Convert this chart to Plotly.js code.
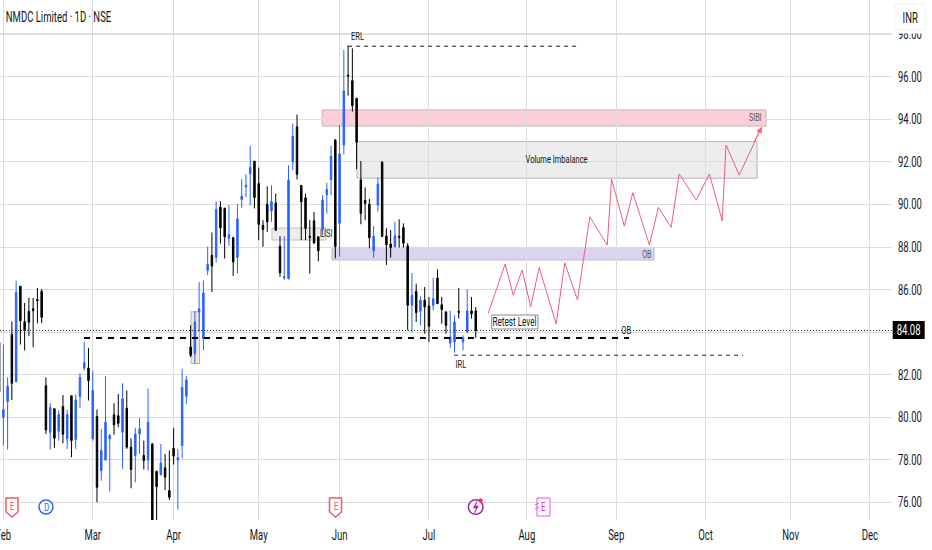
<!DOCTYPE html>
<html><head><meta charset="utf-8">
<script src="https://cdn.plot.ly/plotly-3.0.1.min.js"></script>
<style>html,body{margin:0;padding:0;background:#fff}#c{width:932px;height:550px}</style>
</head><body><div id="c"></div>
<script>
const opens=[83.53,80.01,80.74,83.89,81.68,86.16,84.50,84.98,85.11,85.53,85.92,81.49,79.30,80.40,79.35,80.51,78.99,81.01,78.96,80.98,82.31,82.32,78.99,80.04,77.50,78.00,78.99,80.12,80.08,79.30,80.43,78.60,78.21,79.22,78.21,78.00,78.75,77.46,77.31,77.63,76.56,78.55,78.00,78.68,80.99,83.30,82.99,84.95,83.69,86.91,87.61,87.51,89.88,89.81,88.40,88.44,87.51,90.23,90.82,91.45,92.03,90.98,89.02,90.01,89.70,90.07,88.04,86.55,86.52,92.00,93.64,90.89,90.31,88.51,89.23,88.48,88.82,90.46,91.17,93.03,89.11,92.79,96.08,95.81,94.98,91.15,90.19,90.02,87.82,89.97,91.99,88.52,88.14,88.02,88.50,88.91,88.05,85.26,85.92,84.98,85.50,85.23,85.26,86.54,85.29,84.95,83.49,83.54,84.98,83.54,84.01,85.00,85.00];
const highs=[83.53,83.42,81.88,84.50,86.42,86.16,85.37,85.61,85.61,86.08,86.03,81.88,80.66,80.43,80.32,81.05,80.35,81.02,81.07,82.07,83.56,83.26,82.20,80.37,79.46,81.95,79.22,80.66,81.10,81.60,81.26,79.02,79.51,79.97,78.91,81.34,78.79,77.50,78.75,78.28,78.44,79.49,78.52,82.28,81.95,84.32,84.98,86.35,86.43,88.01,88.68,90.15,90.15,89.85,89.96,88.48,90.01,91.18,91.42,92.75,92.04,91.73,89.26,90.85,90.90,90.51,88.51,88.51,91.84,93.80,94.22,90.90,90.51,89.26,89.65,88.48,90.43,91.01,92.75,93.06,93.73,97.25,97.46,97.33,95.01,92.04,90.80,90.26,88.99,91.27,92.01,88.88,88.80,89.19,89.30,89.11,88.18,86.78,86.28,85.68,86.12,85.65,86.56,86.95,85.65,84.98,85.00,84.79,86.08,83.85,86.00,85.65,85.18];
const lows=[81.10,78.68,78.49,80.82,81.65,83.42,83.14,83.81,83.29,84.42,84.42,79.22,78.49,78.57,78.91,78.79,78.52,78.13,78.52,80.43,82.20,80.79,78.91,76.02,77.03,77.97,76.52,79.18,79.54,77.58,78.52,76.67,76.95,78.28,77.55,77.50,75.00,75.00,77.27,76.59,76.12,77.78,75.67,78.08,80.63,82.83,82.52,84.01,83.15,86.68,85.89,87.27,88.16,87.46,88.05,86.64,86.75,89.84,90.35,89.96,89.81,88.32,88.01,88.71,89.18,88.76,86.60,86.44,86.47,91.61,91.17,88.32,88.32,86.75,88.16,87.33,88.55,89.57,90.43,87.47,87.55,92.35,95.11,94.36,91.66,89.07,89.27,87.94,87.50,89.66,88.49,87.16,87.50,87.97,87.97,87.97,84.09,84.01,84.48,84.32,83.93,83.54,85.03,85.34,84.40,83.93,83.27,83.04,84.64,83.15,83.96,84.64,83.73];
const closes=[81.18,80.37,81.45,81.60,85.86,84.54,84.08,84.47,85.01,85.48,84.70,79.41,80.46,79.02,80.13,79.21,80.13,78.91,80.82,81.88,82.57,81.73,81.26,76.72,78.44,79.77,79.15,79.65,79.72,80.87,78.60,77.55,79.22,79.46,77.97,79.77,75.00,76.75,77.86,77.19,76.25,78.18,78.11,81.41,81.76,82.91,84.48,85.10,85.84,87.19,87.11,89.76,88.90,88.48,88.58,87.30,89.32,90.38,90.90,91.73,90.32,89.05,88.82,89.18,90.13,88.79,86.79,86.60,91.14,93.20,91.42,90.12,88.87,88.44,88.19,87.82,90.20,90.70,92.26,88.02,92.37,95.33,96.03,94.64,92.92,89.58,90.05,88.44,88.50,90.96,88.49,88.10,87.97,88.53,88.44,88.18,85.26,85.73,84.92,85.50,85.18,84.28,85.57,85.34,85.07,84.32,83.77,84.48,84.93,83.74,85.00,84.87,84.08];
const barIndex=opens.map((_,i)=>i);

const pathBars=[114.9,118.9,120.8,122.9,124.9,126.9,130.9,132.9,135.9,138.8,142.9,143.9,146.9,148.9,152.8,154.9,157.9,159.8,163.8,166.9,169.9,170.8,173.9,179.2];
const pathPrices=[84.88,87.20,85.74,86.92,85.19,87.04,84.38,87.26,85.51,89.42,88.09,91.19,88.98,90.55,88.09,89.86,88.92,91.43,90.21,91.43,89.23,92.79,91.38,93.64];

const monthVals=[1,22,41,61,80,101,124,145,166,186,204.6];
const monthText=['Feb','Mar','Apr','May','Jun','Jul','Aug','Sep','Oct','Nov','Dec'];
const priceVals=[76,78,80,82,84,86,88,90,92,94,96,98];
const priceText=['76.00','78.00','80.00','82.00','','86.00','88.00','90.00','92.00','94.00','96.00','98.00'];
const lastPrice=84.08;

const FONT='Roboto,sans-serif';
const INK='#131722', GRID='#dcdcdc';
const W=892,H=520;
const SQUEEZE=0.68;
const px=x=>x/W, py=y=>1-y/H;
const poly=(pts,close)=>'M'+pts.map(p=>px(p[0])+' '+py(p[1])).join(' L')+(close?' Z':'');

function box(x0,x1,y0,y1,fill,line){return {type:'rect',xref:'x',yref:'y',x0,x1,y0,y1,layer:'below',fillcolor:fill,line:{color:line,width:1}};}
function hline(x0,x1,y,color,width,dash){return {type:'line',xref:'x',yref:'y',x0,x1,y0:y,y1:y,layer:'above',line:{color,width,dash}};}
function paperRect(x0,x1,y0,y1,fill,line){return {type:'rect',xref:'paper',yref:'paper',x0:px(x0),x1:px(x1),y0:py(y1),y1:py(y0),layer:'above',fillcolor:fill,line:line?{color:line,width:1}:{width:0}};}
function paperPath(path,stroke,fill,w){return {type:'path',xref:'paper',yref:'paper',path,layer:'above',fillcolor:fill||'#fff',line:{color:stroke,width:w||1.5}};}
function paperCircle(cx,cy,r,stroke,fill,w){return {type:'circle',xref:'paper',yref:'paper',x0:px(cx-r),x1:px(cx+r),y0:py(cy+r),y1:py(cy-r),layer:'above',fillcolor:fill||'#fff',line:{color:stroke,width:w||1.5}};}
function shield(cx,color){return paperPath(poly([[cx-6,498],[cx+6,498],[cx+6,512],[cx,517],[cx-6,512]],true),color);}

const shapes=[
 {type:'line',xref:'paper',yref:'y',x0:0,x1:1,y0:98,y1:98,layer:'below',line:{color:'#e2e2e2',width:2}},
 box(75.9,180.2,93.68,94.44,'rgba(247,160,178,0.5)','#c9b3b8'),
 box(84.1,178.1,91.23,92.95,'rgba(225,225,225,0.6)','#b5b5b5'),
 box(78.2,153.9,87.39,87.98,'rgba(190,175,225,0.55)','#c0bccb'),
 box(64.1,76.8,88.33,88.89,'rgba(225,225,225,0.6)','#c0c0c0'),
 box(45.1,47.1,82.53,84.96,'rgba(225,210,170,0.5)','#b9b3a4'),
 {type:'line',xref:'paper',yref:'y',x0:0,x1:1,y0:lastPrice,y1:lastPrice,layer:'above',line:{color:'#333',width:1,dash:'1px,2px'}},
 hline(19.95,148,83.73,'#000',2,'6px,6px'),
 hline(82,136.5,97.43,'#111',1,'4px,4px'),
 hline(106.9,174.8,82.92,'#222',1,'4px,4px'),
 paperRect(892,932,0,33.5,'#fff'),
 paperRect(895,925,4,30,'#fff','#f0f0f0'),
 paperRect(892.7,924.7,321,339,'#000'),
 paperRect(491.7,538,315,329,'#fff','#888'),
 shield(12,'#ef5a6b'),
 paperCircle(46,507,7,'#2962ff'),
 shield(335.5,'#ef5a6b'),
 paperCircle(475.7,507,7.3,'#9c27b0'),
 paperPath(poly([[477,501],[473.5,508],[476.5,508],[474.5,513],[478.5,506],[475.5,506]],true),'#9c27b0','#9c27b0',0.6),
 paperCircle(480.5,500.5,2,'#f23645','#f23645',0.5),
 paperRect(537,550,498,516,'#fff','#e255ee'),
 paperPath(poly([[535,505],[539,503]]),'#e255ee',null,1),
 paperPath(poly([[535,509],[539,507]]),'#e255ee',null,1)
];

function label(x,y,text,extra){return Object.assign({xref:'x',yref:'y',x,y,xanchor:'center',yanchor:'middle',text,showarrow:false,font:{family:FONT,size:11,color:INK}},extra||{});}
function paperLabel(xp,yp,text,extra){return Object.assign({xref:'paper',yref:'paper',x:px(xp),y:py(yp),xanchor:'center',yanchor:'middle',text,showarrow:false,font:{family:FONT,size:13,color:INK}},extra||{});}

const annotations=[
 paperLabel(58.5,17,'NMDC Limited · 1D · NSE',{font:{family:FONT,size:14,color:INK}}),
 label(84.1,97.87,'ERL'),
 label(108.5,82.50,'IRL'),
 label(147.3,84.10,'OB'),
 label(177.8,94.06,'SIBI',{font:{family:FONT,size:10.5,color:'#555'}}),
 label(130.9,92.11,'Volume Imbalance'),
 label(152.2,87.67,'OB',{font:{family:FONT,size:10.5,color:'#555'}}),
 label(76.8,88.65,'LISI'),
 label(121.2,84.47,'Retest Level',{font:{family:FONT,size:12,color:INK}}),
 {xref:'x',yref:'y',x:179.2,y:93.64,ax:-8,ay:16,axref:'pixel',ayref:'pixel',text:'',showarrow:true,arrowhead:2,arrowsize:1.2,arrowwidth:1,arrowcolor:'#ec5f7b'},
 paperLabel(908.7,330,lastPrice.toFixed(2),{font:{family:FONT,size:14,color:'#fff'}}),
 paperLabel(910,18,'INR',{font:{family:FONT,size:14,color:INK}}),
 paperLabel(12,506.5,'E',{font:{family:FONT,size:11,color:'#e8505f'}}),
 paperLabel(46,507,'D',{font:{family:FONT,size:11,color:'#2962ff'}}),
 paperLabel(335.5,506.5,'E',{font:{family:FONT,size:11,color:'#e8505f'}}),
 paperLabel(543.5,507,'E',{font:{family:FONT,size:12,color:'#d83ee6'}})
];

const traces=[
 {type:'candlestick',x:barIndex,open:opens,high:highs,low:lows,close:closes,whiskerwidth:0,hoverinfo:'skip',showlegend:false,
  increasing:{line:{color:'#2962ff',width:1},fillcolor:'#2962ff'},
  decreasing:{line:{color:'#000000',width:1},fillcolor:'#000000'}},
 {type:'scatter',mode:'lines',x:pathBars,y:pathPrices,line:{color:'#ec5f7b',width:1},hoverinfo:'skip',showlegend:false}
];

const layout={
 width:932,height:550,margin:{l:0,r:40,t:0,b:30,pad:0},
 paper_bgcolor:'#fff',plot_bgcolor:'#fff',showlegend:false,boxgap:0.5,
 font:{family:FONT,size:12,color:INK},
 xaxis:{range:[0.21,209.8],tickmode:'array',tickvals:monthVals,ticktext:monthText,showgrid:true,gridcolor:GRID,gridwidth:1,zeroline:false,showline:false,ticks:'',rangeslider:{visible:false},tickfont:{family:FONT,size:14,color:INK},ticklabeloverflow:'allow',ticklabelstandoff:5},
 yaxis:{range:[75.18,99.60],side:'right',tickmode:'array',tickvals:priceVals,ticktext:priceText,showgrid:true,gridcolor:GRID,gridwidth:1,zeroline:false,showline:false,ticks:'',tickfont:{family:FONT,size:14,color:INK},ticklabelstandoff:5,automargin:false},
 shapes,annotations
};
Plotly.newPlot('c',traces,layout,{displayModeBar:false,staticPlot:true}).then(function(gd){
 // the reference's lettering is much narrower than any installed face: narrow the real text in place
 gd.querySelectorAll('svg text').forEach(function(t){
  if(!t.textContent) return;
  var w=t.getComputedTextLength();
  t.setAttribute('lengthAdjust','spacingAndGlyphs');
  t.setAttribute('textLength',(w*SQUEEZE).toFixed(1));
 });
});
</script></body></html>
